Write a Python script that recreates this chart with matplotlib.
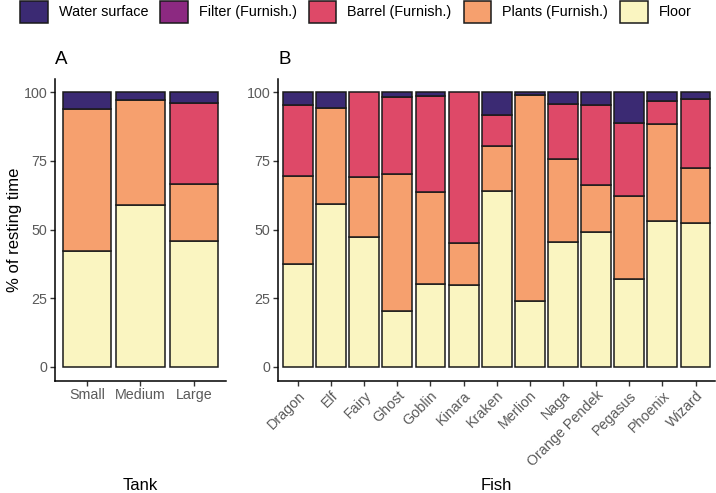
import matplotlib
matplotlib.use("Agg")
import matplotlib.pyplot as plt
from matplotlib.patches import Patch
import numpy as np

plt.rcParams['font.family'] = ['Liberation Sans', 'DejaVu Sans']

# ---- data ----
categories = ["Water surface", "Filter (Furnish.)", "Barrel (Furnish.)", "Plants (Furnish.)", "Floor"]
colors = ["#3B2A73", "#8C2981", "#DE4968", "#F6A06E", "#FAF5C1"]

tanks = ["Small", "Medium", "Large"]
tank_floor = [42.3, 58.9, 45.8]
tank_plants = [51.6, 38.4, 21.0]
tank_filter = [0.0, 0.0, 0.0]
tank_barrel = [0.0, 0.0, 29.3]
tank_water = [6.1, 2.7, 3.9]

fish = ["Dragon", "Elf", "Fairy", "Ghost", "Goblin", "Kinara", "Kraken", "Merlion",
        "Naga", "Orange Pendek", "Pegasus", "Phoenix", "Wizard"]
fish_floor = [37.5, 59.4, 47.2, 20.2, 30.3, 29.9, 64.1, 23.9, 45.5, 49.2, 32.1, 53.0, 52.3]
fish_plants = [32.1, 35.0, 22.0, 49.9, 33.5, 15.1, 16.2, 75.0, 30.3, 17.1, 30.3, 35.6, 20.3]
fish_filter = [0.0] * 13
fish_barrel = [25.7, 0.0, 30.8, 28.2, 34.9, 55.0, 11.3, 0.0, 20.1, 29.1, 26.4, 8.1, 25.0]
fish_water = [4.7, 5.6, 0.0, 1.7, 1.3, 0.0, 8.4, 1.1, 4.1, 4.6, 11.2, 3.3, 2.4]

yticks = [0, 25, 50, 75, 100]

W, H = 716, 493
fig = plt.figure(figsize=(W / 100, H / 100), dpi=100)

def fx(px):
    return px / W

def fy(py):
    return 1 - py / H

top_px, bot_px = 78.6, 380.7
axA = fig.add_axes([fx(54.9), fy(bot_px), fx(226.0 - 54.9), (bot_px - top_px) / H])
axB = fig.add_axes([fx(278.1), fy(bot_px), fx(715.4 - 278.1), (bot_px - top_px) / H])

def draw(ax, labels, layers, rot):
    x = np.arange(len(labels))
    bottom = np.zeros(len(labels))
    # stack from bottom: floor, plants, barrel, filter, water
    for vals, col in layers:
        vals = np.array(vals, dtype=float)
        mask = vals > 0
        ax.bar(x[mask], vals[mask], bottom=bottom[mask], width=0.9, color=col,
               edgecolor="#1A1A1A", linewidth=1.1, zorder=2)
        bottom += vals
    ax.set_xlim(-0.6, len(labels) - 0.4)
    ax.set_ylim(-5, 105)
    ax.set_yticks(yticks)
    ax.set_yticklabels([str(t) for t in yticks])
    ax.set_xticks(x)
    if rot:
        ax.set_xticklabels(labels, rotation=45, ha="right", va="top", rotation_mode="anchor")
    else:
        ax.set_xticklabels(labels)
    for s in ["top", "right"]:
        ax.spines[s].set_visible(False)
    for s in ["left", "bottom"]:
        ax.spines[s].set_linewidth(1.1)
        ax.spines[s].set_color("black")
    ax.tick_params(axis="both", length=3.5, width=1.0, color="#333333",
                   labelsize=10.3, labelcolor="#5A5A5A", pad=2)

layersA = [(tank_floor, colors[4]), (tank_plants, colors[3]), (tank_barrel, colors[2]),
           (tank_filter, colors[1]), (tank_water, colors[0])]
layersB = [(fish_floor, colors[4]), (fish_plants, colors[3]), (fish_barrel, colors[2]),
           (fish_filter, colors[1]), (fish_water, colors[0])]
draw(axA, tanks, layersA, False)
draw(axB, fish, layersB, True)

axA.set_title("A", loc="left", fontsize=13.5, pad=10.5)
axB.set_title("B", loc="left", fontsize=13.5, pad=10.5)

fig.text(fx(15), fy((top_px + bot_px) / 2), "% of resting time", rotation=90,
         ha="center", va="center", fontsize=12)
fig.text(fx(140.5), fy(486), "Tank", ha="center", va="center", fontsize=12)
fig.text(fx(496.7), fy(486), "Fish", ha="center", va="center", fontsize=12)

handles = [Patch(facecolor=c, edgecolor="#1A1A1A", linewidth=1.1, label=l)
           for c, l in zip(colors, categories)]
fig.legend(handles=handles, loc="upper center", bbox_to_anchor=(0.497, 1.0), ncol=5,
           frameon=False, fontsize=10.4, handlelength=1.9, handleheight=1.95,
           handletextpad=0.75, columnspacing=0.85, borderpad=0.05, borderaxespad=0.0)

fig.savefig("out.png", dpi=100)
